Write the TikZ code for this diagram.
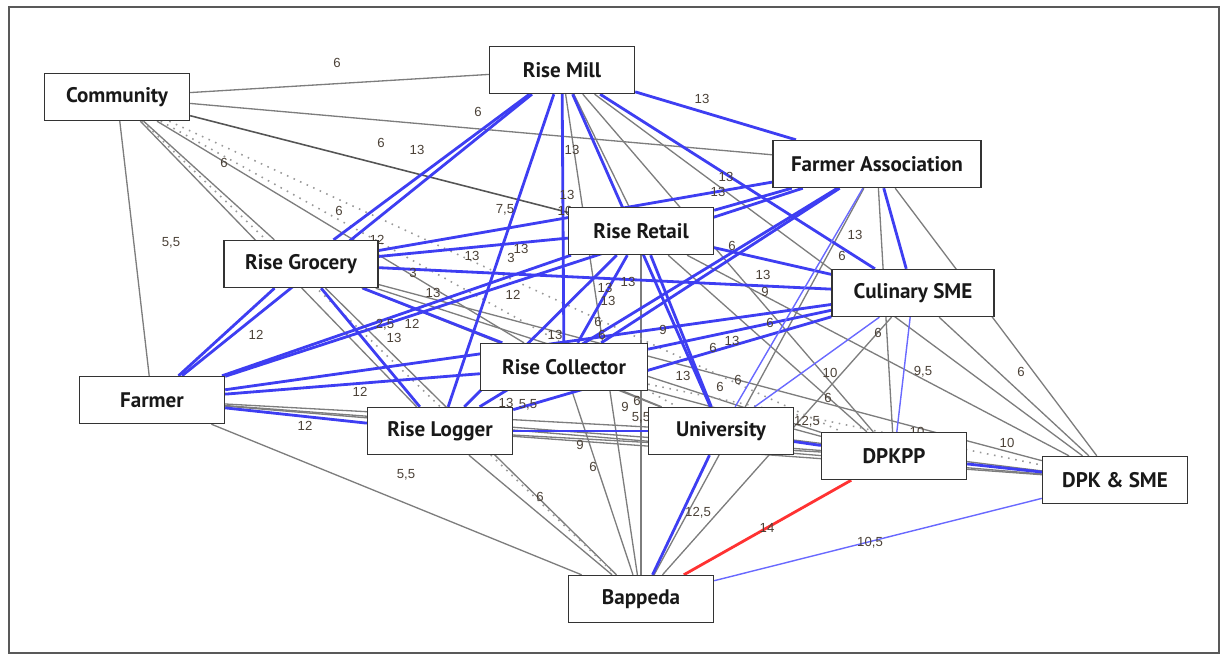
\documentclass[tikz,border=0pt]{standalone}
\usepackage{fontspec}
\setmainfont{Liberation Sans}
\newfontfamily\boxfont{PT Sans}
\pgfdeclarelayer{edges}
\pgfsetlayers{edges,main}
\definecolor{edgegray}{RGB}{125,125,125}
\definecolor{darkedge}{RGB}{85,85,85}
\definecolor{tieblue}{RGB}{62,62,242}
\definecolor{lightblue}{RGB}{105,105,255}
\definecolor{tiered}{RGB}{255,50,50}
\definecolor{labelcol}{RGB}{75,65,55}
\begin{document}
\begin{tikzpicture}[x=0.02cm,y=-0.02cm,
  actor/.style={draw=black!80, line width=0.8pt, fill=white,
    minimum width=2.9cm, minimum height=0.94cm, inner sep=0pt,
    font=\boxfont\bfseries\fontsize{12}{14}\selectfont, text=black!90},
  grayedge/.style={draw=edgegray, line width=0.75pt},
  darkgrayedge/.style={draw=darkedge, line width=0.9pt},
  dotedge/.style={draw=black!40, line width=0.9pt, dash pattern=on 0.9pt off 3.2pt},
  blueedge/.style={draw=tieblue, line width=1.6pt},
  thinblue/.style={draw=lightblue, line width=0.8pt},
  rededge/.style={draw=tiered, line width=1.6pt},
  weight/.style={font=\fontsize{7.5}{8}\selectfont, text=labelcol, inner sep=0pt}
]
\useasboundingbox (0,0) rectangle (1227,656);
\draw[draw=black!65, line width=0.9pt] (9,7) rectangle (1219,653);

% actors
\node[actor] (Co) at (117,97) {Community};
\node[actor] (RM) at (562,70) {Rise Mill};
\node[actor, minimum width=4.16cm] (FA) at (877,164) {Farmer Association};
\node[actor] (RR) at (641,231) {Rise Retail};
\node[actor, minimum width=3.08cm] (RG) at (301,264) {Rise Grocery};
\node[actor, minimum width=3.24cm] (CS) at (913,293) {Culinary SME};
\node[actor, minimum width=3.34cm] (RC) at (564,367) {Rise Collector};
\node[actor] (Fa) at (152,400) {Farmer};
\node[actor] (RL) at (440,431) {Rise Logger};
\node[actor] (Un) at (721,431) {University};
\node[actor] (DK) at (894,456) {DPKPP};
\node[actor] (DS) at (1115,480) {DPK \& SME};
\node[actor] (Bp) at (641,599) {Bappeda};

\begin{pgfonlayer}{edges}
% weaker ties
\foreach \a/\b in {Co/RM, Co/FA, Co/RG, Co/RC, Co/RL, Co/Fa,
  RM/Bp, RM/DK, RM/DS, RM/RR, FA/DK, FA/DS, FA/Bp, CS/DS, CS/Bp,
  RR/DK, RR/DS, RR/Bp, RG/Un, RG/DK, RG/DS, RG/Bp, RC/Un, RC/DK, RC/Bp,
  RL/DK, RL/DS, RL/Bp, Fa/Un, Fa/DK, Fa/DS, Fa/Bp, Un/DS}
  \draw[grayedge] (\a) -- (\b);
\draw[darkgrayedge] (Co) -- (RR);
\foreach \a/\b in {Co/Bp, Co/DK, Co/Un, RC/DS}
  \draw[dotedge] (\a) -- (\b);
% strong ties
\foreach \a/\b in {RM/FA, RM/RG, RM/Fa, RM/RL, RM/RC, RM/Un, RM/CS,
  RG/FA, RG/RR, RG/CS, RG/RL, RG/Fa, RG/RC,
  Fa/RR, Fa/FA, Fa/RC, Fa/CS, Fa/RL,
  RC/RR, RC/FA, RC/CS, RL/RR, RL/FA, RL/CS, RL/Un,
  RR/FA, RR/CS, RR/Un, FA/CS, Un/DK, Un/Bp, DK/DS}
  \draw[blueedge] (\a) -- (\b);
\foreach \a/\b in {FA/Un, CS/Un, CS/DK, DS/Bp}
  \draw[thinblue] (\a) -- (\b);
\draw[rededge] (DK) -- (Bp);
% tie weights
\foreach \x/\y/\t [count=\i] in {337/63/6, 478/112/6, 702/99/13, 381/143/6,
  417/150/13, 572/150/13, 224/163/6, 567/195/13, 565/211/10, 505/210/{7,5},
  339/211/6, 171/243/{5,5}, 377/240/12, 472/256/13, 511/258/3, 521/249/13,
  413/273/3, 433/293/13, 513/295/12, 605/288/13, 608/301/13, 628/282/13,
  732/246/6, 726/177/13, 718/192/13, 855/235/13, 842/256/6, 763/275/13,
  765/292/9, 770/323/6, 598/322/6, 602/335/6, 663/330/9, 713/348/6,
  732/341/13, 385/325/{2,5}, 394/338/13, 412/324/12, 256/335/12, 555/335/13,
  360/392/12, 305/426/12, 506/403/13, 528/405/{5,5}, 683/376/13, 720/387/6,
  738/380/6, 625/407/9, 637/401/6, 641/418/{5,5}, 830/373/10, 923/372/{9,5},
  1021/372/6, 828/398/6, 878/333/6, 807/422/{12,5}, 917/432/10, 1007/443/10,
  406/475/{5,5}, 580/445/9, 593/467/6, 540/497/6, 698/513/{12,5}, 767/528/14,
  870/543/{10,5}}
  \node[weight] (w\i) at (\x,\y) {\t};
\end{pgfonlayer}
\end{tikzpicture}
\end{document}
